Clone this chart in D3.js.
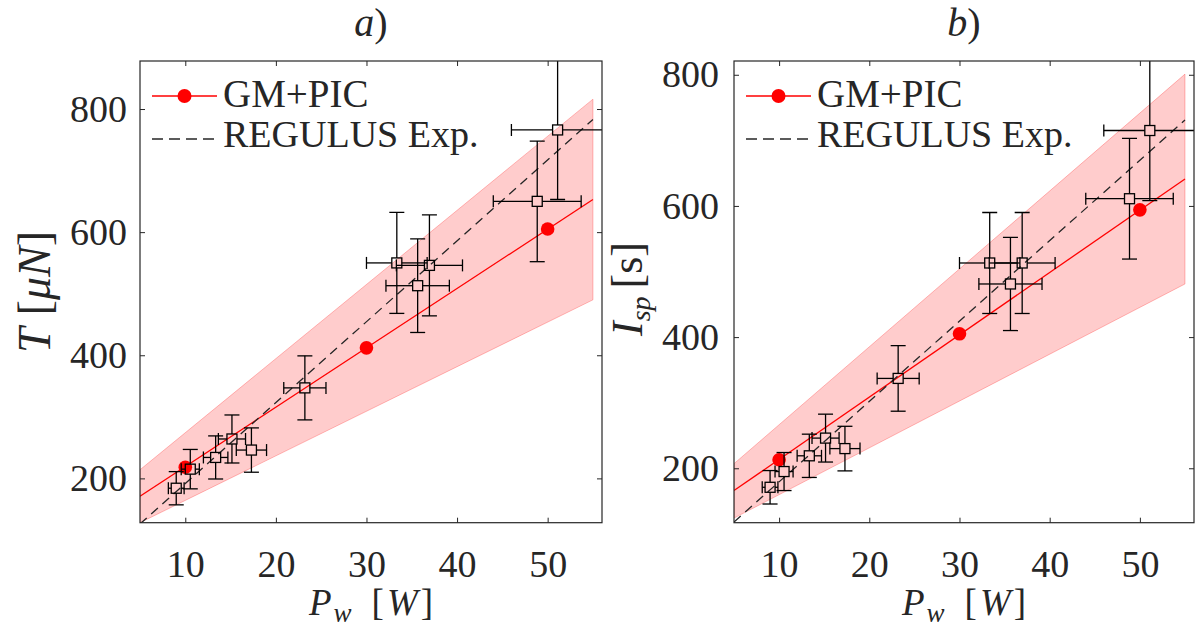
<!DOCTYPE html>
<html>
<head>
<meta charset="utf-8">
<script src="https://cdn.jsdelivr.net/npm/d3@7"></script>
<style>
  body { margin: 0; background: #fff; }
  svg { display: block; }
  text { font-family: "Liberation Serif", "Times New Roman", serif; fill: #262626; }
</style>
</head>
<body>
<svg id="fig" width="1197" height="638"></svg>
<script>
// ---- tick values ----
const powerTicks = [10, 20, 30, 40, 50];
const thrustTicks = [200, 400, 600, 800];
const ispTicks = [200, 400, 600, 800];

// ---- GM+PIC simulation points ----
const simPower = [10, 30, 50];
const simThrust = [218, 412, 605];
const simIsp = [213, 405, 594];

// ---- linear fit of the simulation, with its +/-25 % band ----
const fitPower = [5, 55];
const fitThrust = [171, 653];
const fitThrustLow = [128, 490];
const fitThrustHigh = [214, 816];
const fitIsp = [166, 641];
const fitIspLow = [124, 481];
const fitIspHigh = [207, 801];

// ---- REGULUS experimental points (value and half error) ----
const expPower    = [9.0, 10.55, 13.35, 15.15, 17.3, 23.2, 33.35, 36.95, 35.65, 48.85, 51.1];
const expPowerErr = [0.87, 1.0, 1.35, 1.5, 1.67, 2.33, 3.35, 3.65, 3.5, 4.85, 5.1];
const expThrust    = [184, 215, 234, 264, 246, 347, 550, 546, 513, 650, 766];
const expThrustErr = [27, 32, 35, 39, 36, 52, 82, 82, 76, 98, 113];
const expIsp    = [171, 195, 219, 246, 230, 337, 513, 513, 481, 611, 715];
const expIspErr = [25.5, 29, 33, 36.5, 34, 50, 77, 77, 71, 92, 107];

// ---- linear fit of the experiments ----
const expFitThrust = [126, 783];
const expFitIsp = [118, 731];

const SERIF = '"Liberation Serif", "Times New Roman", serif';
const svg = d3.select("#fig");

function drawPanel(cfg) {
  const x = d3.scaleLinear().domain([5, 56]).range([cfg.left, cfg.right]);
  const y = d3.scaleLinear().domain(cfg.yDomain).range([cfg.bottom, cfg.top]);
  const g = svg.append("g");

  const clipId = "clip-" + cfg.id;
  svg.append("defs").append("clipPath").attr("id", clipId)
    .append("rect")
    .attr("x", cfg.left).attr("y", cfg.top)
    .attr("width", cfg.right - cfg.left).attr("height", cfg.bottom - cfg.top);

  const plot = g.append("g").attr("clip-path", `url(#${clipId})`);

  // uncertainty band around the simulation fit
  const band = fitPower.map((p, i) => ({ p, lo: cfg.bandLow[i], hi: cfg.bandHigh[i] }));
  plot.append("path")
    .datum(band)
    .attr("d", d3.area().x(d => x(d.p)).y0(d => y(d.lo)).y1(d => y(d.hi)))
    .attr("fill", "#ff0000").attr("fill-opacity", 0.2)
    .attr("stroke", "#ff0000").attr("stroke-opacity", 0.25).attr("stroke-width", 1);

  const line = d3.line().x(d => x(d[0])).y(d => y(d[1]));

  // simulation fit
  plot.append("path")
    .datum(fitPower.map((p, i) => [p, cfg.fit[i]]))
    .attr("d", line)
    .attr("fill", "none").attr("stroke", "#ff0000").attr("stroke-width", 1.3);

  // experimental fit
  plot.append("path")
    .datum(fitPower.map((p, i) => [p, cfg.expFit[i]]))
    .attr("d", line)
    .attr("fill", "none").attr("stroke", "#262626").attr("stroke-width", 1.3)
    .attr("stroke-dasharray", "9,6");

  // simulation points
  plot.selectAll("circle.sim")
    .data(simPower.map((p, i) => [p, cfg.sim[i]]))
    .join("circle")
    .attr("class", "sim")
    .attr("cx", d => x(d[0])).attr("cy", d => y(d[1]))
    .attr("r", 6.8).attr("fill", "#ff0000");

  // experimental points with error bars
  const exp = expPower.map((p, i) => ({
    p, pe: expPowerErr[i], v: cfg.exp[i], ve: cfg.expErr[i]
  }));
  const eb = plot.append("g").attr("stroke", "#000").attr("stroke-width", 1.3).attr("fill", "none");
  exp.forEach(d => {
    const cx = x(d.p), cy = y(d.v);
    const yT = y(d.v + d.ve), yB = y(d.v - d.ve);
    const xL = x(d.p - d.pe), xR = x(d.p + d.pe);
    const capV = 7.5, capH = 6;
    eb.append("line").attr("x1", cx).attr("x2", cx).attr("y1", yT).attr("y2", cy - 5);
    eb.append("line").attr("x1", cx).attr("x2", cx).attr("y1", cy + 5).attr("y2", yB);
    eb.append("line").attr("x1", cx - capV).attr("x2", cx + capV).attr("y1", yT).attr("y2", yT);
    eb.append("line").attr("x1", cx - capV).attr("x2", cx + capV).attr("y1", yB).attr("y2", yB);
    eb.append("line").attr("x1", xL).attr("x2", cx - 5).attr("y1", cy).attr("y2", cy);
    eb.append("line").attr("x1", cx + 5).attr("x2", xR).attr("y1", cy).attr("y2", cy);
    eb.append("line").attr("x1", xL).attr("x2", xL).attr("y1", cy - capH).attr("y2", cy + capH);
    eb.append("line").attr("x1", xR).attr("x2", xR).attr("y1", cy - capH).attr("y2", cy + capH);
    eb.append("rect").attr("x", cx - 5).attr("y", cy - 5).attr("width", 10).attr("height", 10);
  });

  // axes (ticks pointing inward on all four sides)
  const tickStyle = sel => {
    sel.attr("font-family", SERIF);
    sel.select(".domain").remove();
    sel.selectAll(".tick line").attr("stroke", "#262626").attr("stroke-width", 1);
    sel.selectAll(".tick text")
      .style("font-family", SERIF).style("font-size", "38px").attr("fill", "#262626");
  };
  g.append("g").attr("transform", `translate(0,${cfg.bottom})`)
    .call(d3.axisBottom(x).tickValues(powerTicks).tickSize(-5).tickPadding(27))
    .call(tickStyle);
  g.append("g").attr("transform", `translate(0,${cfg.top})`)
    .call(d3.axisTop(x).tickValues(powerTicks).tickSize(-5).tickFormat(""))
    .call(tickStyle);
  g.append("g").attr("transform", `translate(${cfg.left},0)`)
    .call(d3.axisLeft(y).tickValues(cfg.yTicks).tickSize(-5).tickPadding(cfg.yPad))
    .call(tickStyle);
  g.append("g").attr("transform", `translate(${cfg.right},0)`)
    .call(d3.axisRight(y).tickValues(cfg.yTicks).tickSize(-5).tickFormat(""))
    .call(tickStyle);

  g.append("rect")
    .attr("x", cfg.left).attr("y", cfg.top)
    .attr("width", cfg.right - cfg.left).attr("height", cfg.bottom - cfg.top)
    .attr("fill", "none").attr("stroke", "#262626").attr("stroke-width", 1.2);

  // legend
  const lg = g.append("g");
  const lx0 = cfg.left + 12, lx1 = cfg.left + 77;
  lg.append("line").attr("x1", lx0).attr("x2", lx1).attr("y1", cfg.top + 35).attr("y2", cfg.top + 35)
    .attr("stroke", "#ff0000").attr("stroke-width", 1.3);
  lg.append("circle").attr("cx", (lx0 + lx1) / 2).attr("cy", cfg.top + 35).attr("r", 7).attr("fill", "#ff0000");
  lg.append("text").attr("x", lx1 + 6).attr("y", cfg.top + 46).style("font-size", "39px").text("GM+PIC");
  lg.append("line").attr("x1", lx0).attr("x2", lx1).attr("y1", cfg.top + 78).attr("y2", cfg.top + 78)
    .attr("stroke", "#262626").attr("stroke-width", 1.3).attr("stroke-dasharray", "11,6");
  lg.append("text").attr("x", lx1 + 6).attr("y", cfg.top + 86).style("font-size", "38px").text("REGULUS Exp.");

  // panel title
  const t = g.append("text").attr("x", (cfg.left + cfg.right) / 2).attr("y", 36)
    .attr("text-anchor", "middle").style("font-size", "40px");
  t.append("tspan").attr("font-style", "italic").text(cfg.title);
  t.append("tspan").text(")");

  // x label
  const xl = g.append("text").attr("x", (cfg.left + cfg.right) / 2).attr("y", 615)
    .attr("text-anchor", "middle").style("font-size", "37px");
  xl.append("tspan").attr("font-style", "italic").text("P");
  xl.append("tspan").attr("font-style", "italic").attr("dx", 2).attr("dy", 7).style("font-size", "27px").text("w");
  xl.append("tspan").attr("dy", -7).attr("dx", 20).text("[");
  xl.append("tspan").attr("font-style", "italic").attr("dx", 3).text("W");
  xl.append("tspan").attr("dx", 3).text("]");

  // y label
  const yl = g.append("text")
    .attr("transform", `translate(${cfg.yLabelX},${cfg.yLabelY}) rotate(-90)`)
    .attr("text-anchor", "middle").style("font-size", cfg.yLabelSize);
  cfg.yLabel(yl);
}

drawPanel({
  id: "a", title: "a", left: 140, right: 602, top: 61, bottom: 522.7,
  yDomain: [128, 878], yTicks: thrustTicks, yPad: 13,
  sim: simThrust, fit: fitThrust, bandLow: fitThrustLow, bandHigh: fitThrustHigh,
  exp: expThrust, expErr: expThrustErr, expFit: expFitThrust,
  yLabelX: 50, yLabelY: 292, yLabelSize: "46px",
  yLabel: t => {
    t.append("tspan").attr("font-style", "italic").text("T");
    t.append("tspan").attr("dx", 12).text("[");
    t.append("tspan").attr("font-style", "italic").text("\u03bcN");
    t.append("tspan").text("]");
  }
});

drawPanel({
  id: "b", title: "b", left: 734, right: 1194, top: 61, bottom: 522.7,
  yDomain: [117, 821], yTicks: ispTicks, yPad: 15,
  sim: simIsp, fit: fitIsp, bandLow: fitIspLow, bandHigh: fitIspHigh,
  exp: expIsp, expErr: expIspErr, expFit: expFitIsp,
  yLabelX: 642, yLabelY: 289, yLabelSize: "44px",
  yLabel: t => {
    t.append("tspan").attr("font-style", "italic").text("I");
    t.append("tspan").attr("font-style", "italic").attr("dy", 8).style("font-size", "28px").text("sp");
    t.append("tspan").attr("dy", -8).attr("dx", 8).text("[s]");
  }
});
</script>
</body>
</html>
